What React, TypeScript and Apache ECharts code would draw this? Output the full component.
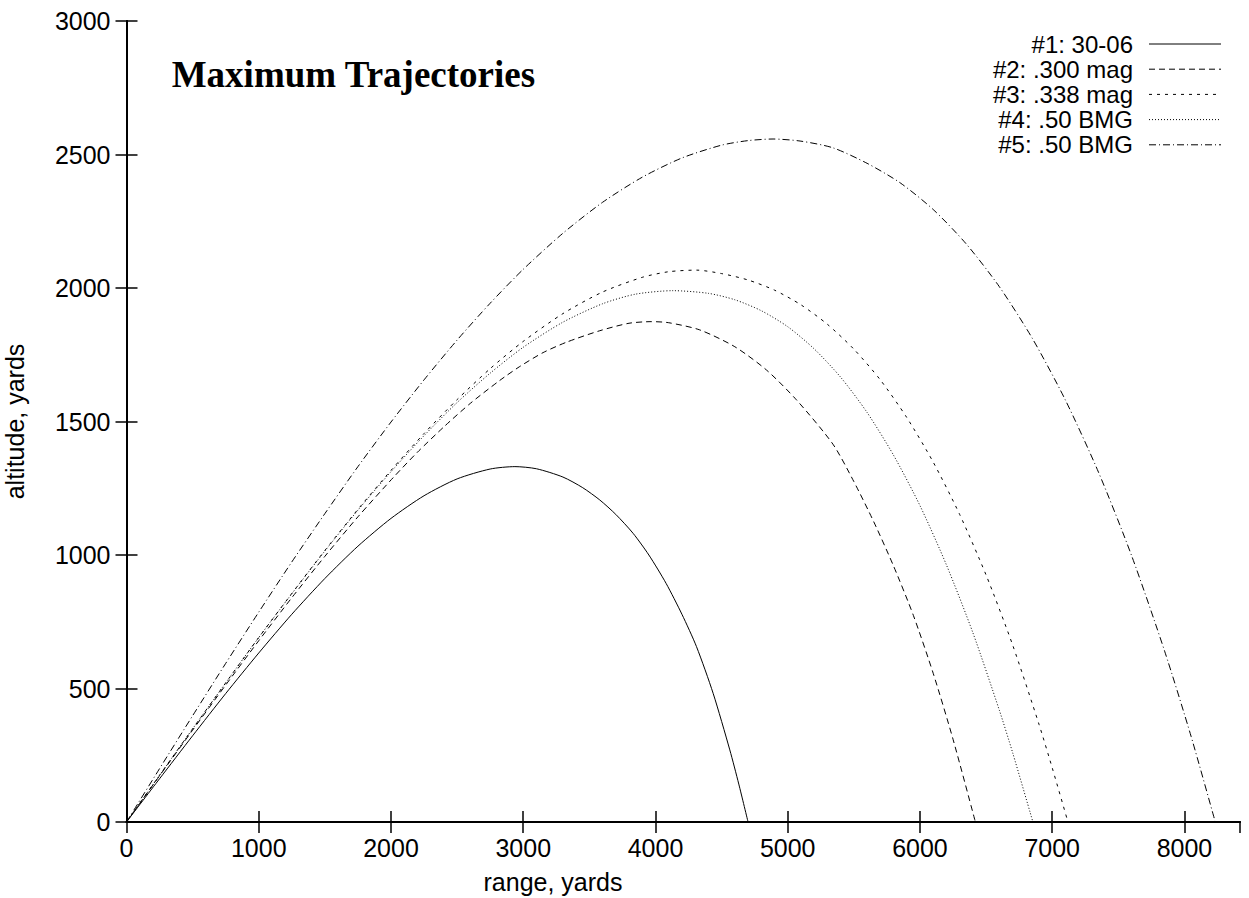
import React, { useEffect, useRef } from 'react';
import * as echarts from 'echarts';

// ---- data (range yards, altitude yards) ----
const seriesNames = ['#1: 30-06', '#2: .300 mag', '#3: .338 mag', '#4: .50 BMG', '#5: .50 BMG'];

const traj3006: [number, number][] = [
  [0, 0], [250, 162], [500, 323], [750, 481], [1000, 633], [1250, 778], [1500, 912],
  [1750, 1033], [2000, 1137], [2250, 1222], [2500, 1285], [2750, 1322], [2937, 1331],
  [3100, 1323], [3300, 1292], [3450, 1252], [3579, 1206], [3700, 1152], [3831, 1081],
  [3950, 1000], [4080, 894], [4200, 778], [4310, 657], [4436, 482], [4562, 270],
  [4630, 142], [4700, 0],
];

const traj300mag: [number, number][] = [
  [0, 0], [250, 173], [500, 344], [750, 513], [1000, 679], [1250, 840], [1500, 995],
  [1750, 1143], [2017, 1290], [2200, 1385], [2400, 1480], [2600, 1568], [2823, 1654],
  [2974, 1706], [3150, 1758], [3327, 1797], [3579, 1840], [3800, 1868], [3970, 1874],
  [4100, 1870], [4335, 1843], [4600, 1780], [4839, 1693], [5066, 1581], [5342, 1415],
  [5500, 1275], [5650, 1125], [5800, 959], [5950, 774], [6100, 557], [6250, 310], [6419, 0],
];

const traj338mag: [number, number][] = [
  [0, 0], [250, 175], [500, 349], [750, 521], [1000, 691], [1250, 856], [1500, 1017],
  [1750, 1171], [2000, 1317], [2250, 1455], [2500, 1582], [2750, 1698], [3000, 1800],
  [3300, 1904], [3600, 1985], [3900, 2040], [4100, 2061], [4310, 2067], [4500, 2054],
  [4700, 2030], [4900, 1992], [5100, 1937], [5300, 1864], [5500, 1771], [5700, 1656],
  [5900, 1515], [6100, 1348], [6300, 1152], [6500, 925], [6700, 664], [6900, 366],
  [7000, 203], [7119, 0],
];

const traj50bmgA: [number, number][] = [
  [0, 0], [250, 175], [500, 349], [750, 521], [1000, 691], [1250, 855], [1500, 1015],
  [1750, 1168], [2000, 1312], [2250, 1447], [2500, 1571], [2750, 1681], [3000, 1778],
  [3300, 1872], [3600, 1941], [3850, 1977], [4133, 1990], [4400, 1980], [4600, 1956],
  [4800, 1915], [5000, 1855], [5200, 1772], [5400, 1666], [5600, 1534], [5800, 1374],
  [6000, 1185], [6200, 963], [6400, 709], [6600, 419], [6700, 261], [6854, 0],
];

const traj50bmgB: [number, number][] = [
  [0, 0], [250, 200], [500, 398], [750, 594], [1000, 786], [1250, 974], [1500, 1155],
  [1750, 1331], [2000, 1498], [2250, 1656], [2500, 1805], [2750, 1943], [3000, 2070],
  [3300, 2205], [3600, 2321], [3900, 2415], [4200, 2487], [4500, 2535], [4700, 2552],
  [4889, 2558], [5100, 2550], [5342, 2525], [5600, 2467], [5850, 2394], [6100, 2294],
  [6350, 2165], [6600, 2005], [6850, 1811], [7100, 1580], [7350, 1310], [7600, 998],
  [7850, 640], [8050, 321], [8233, 0],
];

const trajectories = [traj3006, traj300mag, traj338mag, traj50bmgA, traj50bmgB];

const xMin = 0;
const xMax = 8420;
const xStep = 1000;
const yMin = 0;
const yMax = 3000;
const yStep = 500;

const titleText = 'Maximum Trajectories';
const xTitle = 'range, yards';
const yTitle = 'altitude, yards';

// ---- styles ----
const SANS = '"Liberation Sans", Arial, Helvetica, sans-serif';
const SERIF = '"Liberation Serif", "Times New Roman", Times, serif';
const lineTypes: any[] = ['solid', [6, 4], [3, 5], [1, 2], [7, 3, 1, 3]];

export default function App() {
  const ref = useRef<HTMLDivElement>(null);

  useEffect(() => {
    if (!ref.current) return;
    const chart = echarts.init(ref.current, undefined, { renderer: 'svg' });

    const axisLine = { show: true, lineStyle: { color: '#000', width: 2 } };
    const tick = { show: true, inside: true, length: 11, lineStyle: { color: '#000', width: 1.5 } };

    const legendGraphics: any[] = [];
    seriesNames.forEach((name, i) => {
      const y = 44 + i * 25.2;
      legendGraphics.push({
        type: 'text',
        x: 1133,
        y,
        style: {
          text: name,
          fill: '#000',
          font: `24px ${SANS}`,
          lineHeight: 22,
          textAlign: 'right',
          textVerticalAlign: 'middle',
        },
      });
      legendGraphics.push({
        type: 'line',
        shape: { x1: 1149, y1: y, x2: 1221, y2: y },
        style: {
          stroke: '#000',
          lineWidth: 1,
          lineDash: lineTypes[i] === 'solid' ? null : lineTypes[i],
        },
      });
    });

    chart.setOption({
      animation: false,
      backgroundColor: '#fff',
      grid: {
        left: 126.5,
        right: 9,
        top: 21,
        bottom: 76,
        containLabel: false,
        outerBoundsMode: 'none',
      },
      xAxis: [
        {
          type: 'value',
          min: xMin,
          max: xMax,
          interval: xStep,
          position: 'bottom',
          axisLine,
          axisTick: tick,
          splitLine: { show: false },
          axisLabel: {
            show: true,
            margin: 13,
            fontFamily: SANS,
            fontSize: 25,
            color: '#000',
            showMaxLabel: false,
            formatter: (v: number) => (v % xStep === 0 ? String(v) : ''),
          },
        },
        {
          type: 'value',
          min: xMin,
          max: xMax,
          interval: xStep,
          position: 'top',
          axisLine,
          axisTick: tick,
          splitLine: { show: false },
          axisLabel: { show: false },
        },
      ],
      yAxis: [
        {
          type: 'value',
          min: yMin,
          max: yMax,
          interval: yStep,
          position: 'left',
          name: yTitle,
          nameLocation: 'middle',
          nameGap: 99,
          nameRotate: 90,
          nameTextStyle: { fontFamily: SANS, fontSize: 25, color: '#000' },
          axisLine,
          axisTick: tick,
          splitLine: { show: false },
          axisLabel: {
            show: true,
            margin: 16,
            fontFamily: SANS,
            fontSize: 25,
            color: '#000',
            formatter: (v: number) => String(v),
          },
        },
        {
          type: 'value',
          min: yMin,
          max: yMax,
          interval: yStep,
          position: 'right',
          axisLine,
          axisTick: tick,
          splitLine: { show: false },
          axisLabel: { show: false },
        },
      ],
      graphic: [
        {
          type: 'text',
          x: 171.7,
          y: 74.5,
          style: {
            text: titleText,
            fill: '#000',
            font: `bold 37px ${SERIF}`,
            textAlign: 'left',
            textVerticalAlign: 'middle',
          },
        },
        {
          type: 'text',
          x: 553,
          y: 882,
          style: {
            text: xTitle,
            fill: '#000',
            font: `25px ${SANS}`,
            textAlign: 'center',
            textVerticalAlign: 'middle',
          },
        },
        ...legendGraphics,
      ],
      series: trajectories.map((d, i) => ({
        name: seriesNames[i],
        type: 'line',
        xAxisIndex: 0,
        yAxisIndex: 0,
        data: d,
        showSymbol: false,
        symbol: 'none',
        smooth: 0.25,
        lineStyle: { color: '#000', width: 1, type: lineTypes[i] },
        emphasis: { disabled: true },
      })),
    });

    return () => chart.dispose();
  }, []);

  return (
    <div
      ref={ref}
      style={{ position: 'fixed', left: 0, top: 0, width: 1249, height: 898, background: '#fff' }}
    />
  );
}
